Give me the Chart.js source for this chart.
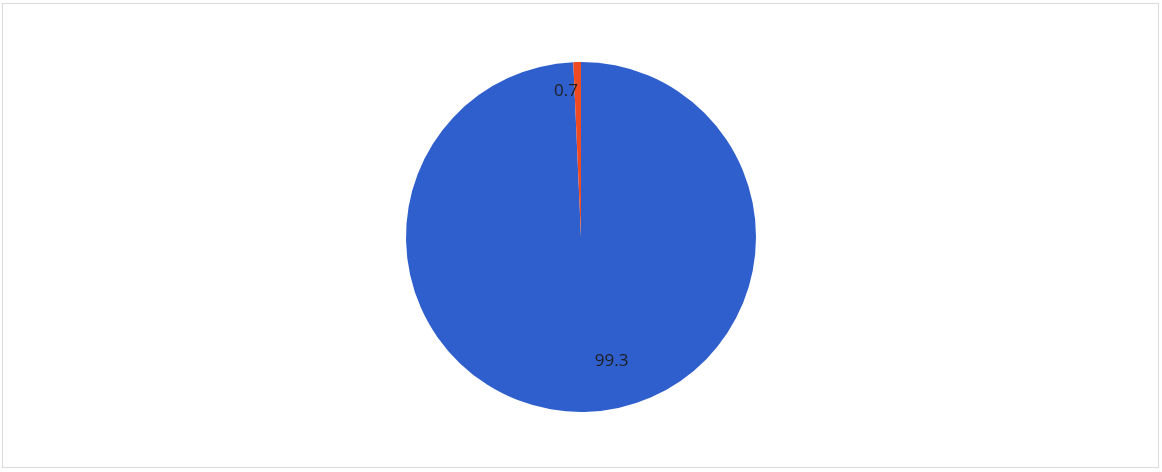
<!DOCTYPE html>
<html>
<head>
<meta charset="utf-8">
<script src="https://cdn.jsdelivr.net/npm/chart.js@4"></script>
<style>
  html, body { margin: 0; padding: 0; background: #fff; }
  #wrap { position: relative; width: 1162px; height: 472px; }
</style>
</head>
<body>
<div id="wrap"><canvas id="pieChart"></canvas></div>
<script>
// chart data
const categories = ['A', 'B']
const values = [99.3, 0.7]
const sliceColors = ['#2f5fcd', '#ef4b22']

// frame round the chart, like the reference
const framePlugin = {
  id: 'frame',
  beforeDraw(chart) {
    const ctx = chart.ctx
    ctx.save()
    ctx.fillStyle = '#fff'
    ctx.fillRect(0, 0, chart.width, chart.height)
    ctx.strokeStyle = '#dcdcdc'
    ctx.lineWidth = 1
    ctx.strokeRect(2.5, 3.5, chart.width - 6, chart.height - 8)
    ctx.restore()
  }
}

// value labels inside the slices
const valueLabels = {
  id: 'valueLabels',
  afterDatasetsDraw(chart) {
    const ctx = chart.ctx
    const meta = chart.getDatasetMeta(0)
    ctx.save()
    ctx.font = '17px "Open Sans", sans-serif'
    ctx.fillStyle = '#1e1e1e'
    ctx.textAlign = 'center'
    ctx.textBaseline = 'middle'
    meta.data.forEach((arc, i) => {
      const p = arc.getProps(['x', 'y', 'startAngle', 'endAngle', 'outerRadius'], true)
      let mid = (p.startAngle + p.endAngle) / 2
      let r = p.outerRadius * 0.73
      if (values[i] < 5) { r = p.outerRadius * 0.84; mid -= 0.08 }
      else { mid -= 0.22 }
      ctx.fillText(String(values[i]), p.x + Math.cos(mid) * r, p.y + Math.sin(mid) * r)
    })
    ctx.restore()
  }
}

let chart = new Chart(document.getElementById('pieChart'), {
  type: 'pie',
  data: {
    labels: categories,
    datasets: [{
      data: values,
      backgroundColor: sliceColors,
      borderWidth: 0
    }]
  },
  options: {
    responsive: true,
    maintainAspectRatio: false,
    animation: false,
    layout: { padding: { top: 62, bottom: 60 } },
    plugins: {
      legend: { display: false },
      tooltip: { enabled: false }
    }
  },
  plugins: [framePlugin, valueLabels]
})
</script>
</body>
</html>
